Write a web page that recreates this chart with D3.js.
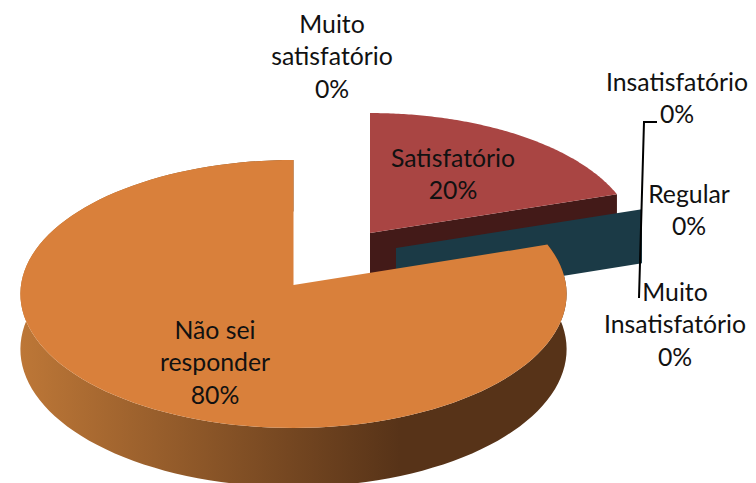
<!DOCTYPE html>
<html><head><meta charset="utf-8">
<script src="https://cdn.jsdelivr.net/npm/d3@7"></script>
<style>html,body{margin:0;padding:0;background:#fff}svg{display:block}text{font-family:Lato,"Open Sans",sans-serif;font-size:24.8px;fill:#111;text-anchor:middle}</style>
</head><body><div id="chart"></div>
<script>
const categories = ["Muito satisfatório","Satisfatório","Insatisfatório","Regular","Muito Insatisfatório","Não sei responder"];
const values = [0,20,0,0,0,80];
const labelLines = [["Muito","satisfatório","0%"],["Satisfatório","20%"],["Insatisfatório","0%"],["Regular","0%"],["Muito","Insatisfatório","0%"],["Não sei","responder","80%"]];

const W=756,H=483;
const svg=d3.select("#chart").append("svg").attr("width",W).attr("height",H);
const pie=d3.pie().sort(null).value(d=>d)(values);

// 3D projection parameters (exploded slice centres per category)
const layout={
  "Satisfatório":{cx:370,cy:233,R:265,A:128,fill:"#A94543",wall:"#431A18"},
  "Regular":{cx:396,cy:248,R:264,A:128,wall:"#1B3A46"},
  "Não sei responder":{cx:293.5,cy:285,R:272.5,A:133.4,fill:"#D9803B"}
};
const b=0.067,depth=55;
const project=(s,ang,r,dz)=>{
  const u=r*Math.sin(ang),v=r*Math.cos(ang),k=1/(1+b*v);
  return [s.cx+s.R*u*k,s.cy+(-s.A*v+dz)*k];
};
const line=d3.line();
const rim=(s,a0,a1,dz)=>d3.range(0,121).map(i=>project(s,a0+(a1-a0)*i/120,1,dz));

const defs=svg.append("defs");
const g=defs.append("linearGradient").attr("id","side").attr("gradientUnits","userSpaceOnUse")
  .attr("x1",20).attr("x2",400).attr("y1",0).attr("y2",0);
g.append("stop").attr("offset",0).attr("stop-color","#BD7737");
g.append("stop").attr("offset",1).attr("stop-color","#573318");

const wall=(s,ang,fill)=>svg.append("path")
  .attr("d",line([project(s,ang,0,0),project(s,ang,1,0),project(s,ang,1,depth),project(s,ang,0,depth)])+"Z")
  .attr("fill",fill);

const iS=categories.indexOf("Satisfatório"),iR=categories.indexOf("Regular"),iN=categories.indexOf("Não sei responder");
const sS=layout[categories[iS]],sR=layout[categories[iR]],sN=layout[categories[iN]];
wall(sS,pie[iS].endAngle,sS.wall);
svg.append("path").attr("d",line([project(sS,0,0,0),...rim(sS,pie[iS].startAngle,pie[iS].endAngle,0)])+"Z").attr("fill",sS.fill);
wall(sR,pie[iR].startAngle,sR.wall);

const a0=pie[iN].startAngle,a1=pie[iN].endAngle;
svg.append("path").attr("d",line([...rim(sN,a0,a1,0),...rim(sN,a1,a0,depth)])+"Z").attr("fill","url(#side)");
svg.append("path").attr("d",line([project(sN,0,0,0),...rim(sN,a0,a1,0)])+"Z").attr("fill",sN.fill);

svg.append("path").attr("d",line([[657,122],[644,122],[639,298]])).attr("fill","none").attr("stroke","#000").attr("stroke-width",2);

const labelPos=[{x:332,y:24},{x:453,y:158},{x:677,y:82},{x:689,y:194},{x:675,y:292},{x:215,y:330}];
const lh=32.5;
labelLines.forEach((lines,i)=>{
  const t=svg.append("text").attr("transform",`translate(${labelPos[i].x},${labelPos[i].y})`);
  lines.forEach((l,j)=>t.append("tspan").attr("x",0).attr("y",j*lh).attr("dy","0.35em").text(l));
});
</script></body></html>
